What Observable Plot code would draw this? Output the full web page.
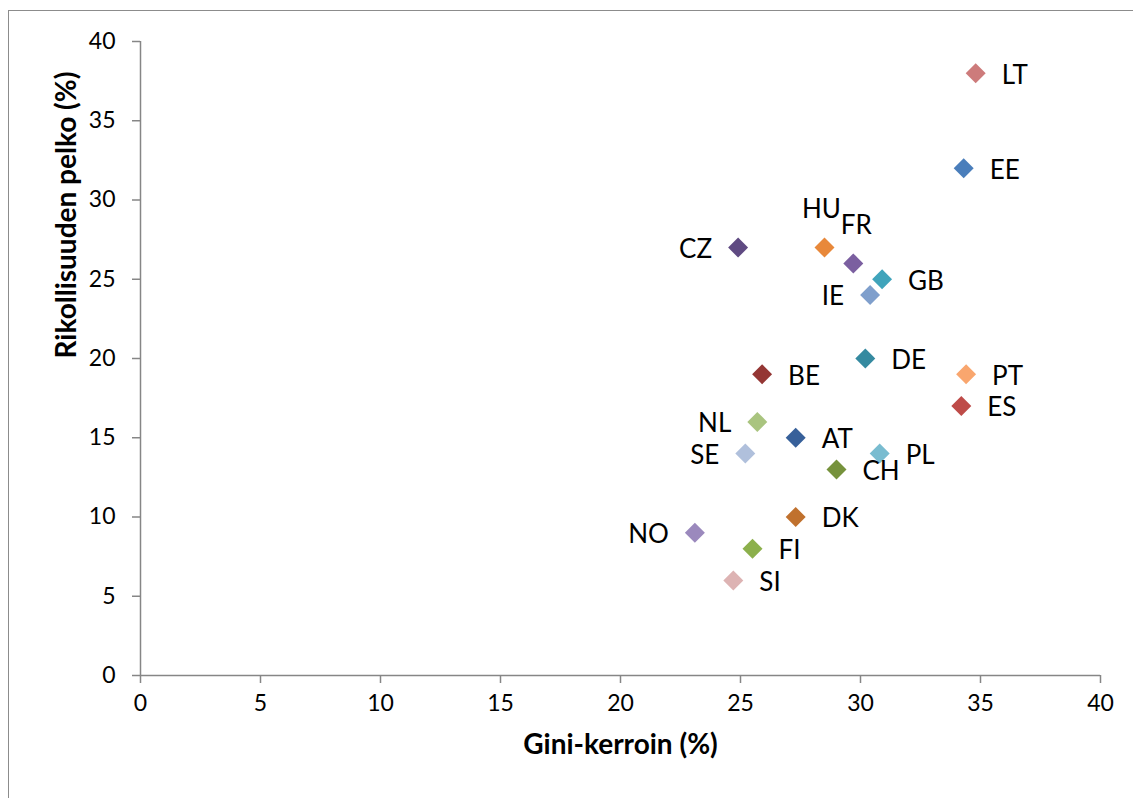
<!DOCTYPE html>
<html>
<head>
<meta charset="utf-8">
<script src="https://cdn.jsdelivr.net/npm/d3@7"></script>
<script src="https://cdn.jsdelivr.net/npm/@observablehq/plot@0.6"></script>
<style>
  html, body { margin: 0; padding: 0; background: #fff; overflow: hidden; }
  #wrap { position: relative; width: 1133px; height: 798px; }
  #border { position: absolute; left: 8px; top: 10px; width: 1200px; height: 900px; border: 1.5px solid #8c8c8c; box-sizing: border-box; }
  #chart { position: absolute; left: 0; top: 0; }
</style>
</head>
<body>
<div id="wrap"><div id="border"></div><div id="chart"></div></div>
<script>
const countries = ["LT","EE","HU","CZ","FR","GB","IE","DE","BE","PT","ES","NL","AT","SE","PL","CH","DK","NO","FI","SI"];
const gini      = [34.8, 34.3, 28.5, 24.9, 29.7, 30.9, 30.4, 30.2, 25.9, 34.4, 34.2, 25.7, 27.3, 25.2, 30.8, 29.0, 27.3, 23.1, 25.5, 24.7];
const fear      = [38, 32, 27, 27, 26, 25, 24, 20, 19, 19, 17, 16, 15, 14, 14, 13, 10, 9, 8, 6];
const colors    = ["#cd7b7b","#4a7ebb","#e8883a","#5f4a82","#7b5fa0","#40a4bb","#7f9fcc","#358aa0","#943634","#f9a66e","#be4b48","#a9c47f","#37609a","#b0c0dc","#79bcd0","#76923c","#c0712e","#9b89bd","#8cb04c","#ddb3b3"];
const labelPos  = ["right","right","above","left","above","right","left","right","right","right","right","left","right","left","right","right","right","left","right","right"];
const xTicks = [0,5,10,15,20,25,30,35,40];
const yTicks = [0,5,10,15,20,25,30,35,40];
const xTitle = "Gini-kerroin (%)";
const yTitle = "Rikollisuuden pelko (%)";

const data = countries.map((c, i) => ({c, x: gini[i], y: fear[i], color: colors[i], pos: labelPos[i]}));
const axisColor = "#868686";

const chart = Plot.plot({
  width: 1133,
  height: 798,
  marginLeft: 140,
  marginRight: 33,
  marginTop: 41,
  marginBottom: 123,
  style: { fontFamily: "Lato, 'Open Sans', sans-serif", background: "transparent", color: "black" },
  x: { domain: [0, 40] },
  y: { domain: [0, 40] },
  marks: [
    Plot.axisX({ ticks: xTicks, tickSize: 8, tickPadding: 11, stroke: axisColor, strokeWidth: 1.5, fill: "black", fontSize: 23, label: null }),
    Plot.axisY({ ticks: yTicks, tickSize: 8, tickPadding: 17, stroke: axisColor, strokeWidth: 1.5, fill: "black", fontSize: 23, label: null }),
    Plot.ruleY([0], { stroke: axisColor, strokeWidth: 1.5 }),
    Plot.ruleX([0], { stroke: axisColor, strokeWidth: 1.5 }),
    Plot.dot(data, { x: "x", y: "y", symbol: "diamond2", r: 9, fill: d => d.color, stroke: "none" }),
    Plot.text(data.filter(d => d.pos === "right"), { x: "x", y: "y", text: "c", textAnchor: "start", dx: 26, dy: 2, fontSize: 26 }),
    Plot.text(data.filter(d => d.pos === "left"), { x: "x", y: "y", text: "c", textAnchor: "end", dx: -26, dy: 2, fontSize: 26 }),
    Plot.text(data.filter(d => d.c === "HU"), { x: "x", y: "y", text: "c", textAnchor: "middle", dx: -3, dy: -38, fontSize: 26 }),
    Plot.text(data.filter(d => d.c === "FR"), { x: "x", y: "y", text: "c", textAnchor: "middle", dx: 3, dy: -38, fontSize: 26 }),
    Plot.text([xTitle], { frameAnchor: "bottom", dy: 78, fontSize: 28, fontWeight: "bold", text: d => d }),
    Plot.text([yTitle], { frameAnchor: "left", dx: -73, rotate: -90, fontSize: 28, fontWeight: "bold", text: d => d })
  ]
});
document.getElementById("chart").appendChild(chart);
</script>
</body>
</html>
